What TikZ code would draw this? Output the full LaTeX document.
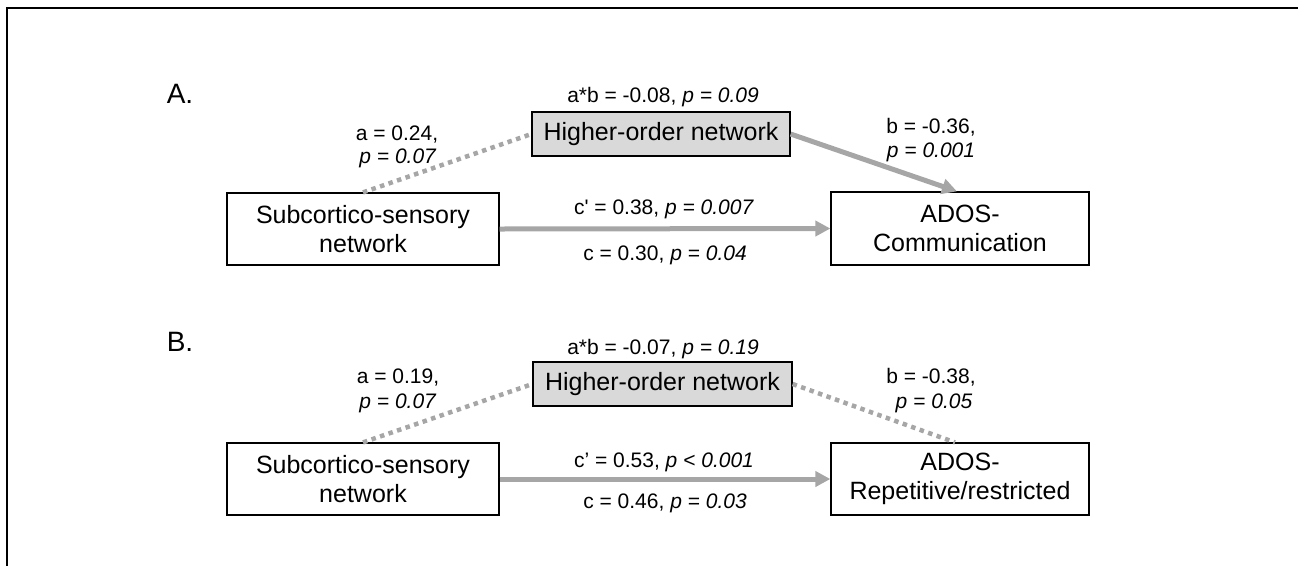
\documentclass[tikz,border=0pt]{standalone}
\usepackage{fontspec}
\setmainfont{Liberation Sans}
\usetikzlibrary{arrows.meta}
\definecolor{lgray}{RGB}{166,166,166}
\definecolor{boxfill}{RGB}{217,217,217}
\begin{document}
\begin{tikzpicture}[x=1pt,y=-1pt,
 box/.style={draw=black,line width=1.2pt,align=center,font=\fontsize{25}{29}\selectfont,inner sep=0pt},
 lab/.style={font=\fontsize{21}{25}\selectfont,anchor=base,inner sep=0pt},
 panel/.style={font=\fontsize{28}{30}\selectfont,anchor=base,inner sep=0pt},
 solidarrow/.style={draw=lgray,line width=5pt,-{Triangle[length=15pt,width=15pt]}},
 dotline/.style={draw=lgray,line width=4.5pt,dash pattern=on 4.5pt off 4.5pt},
]
\useasboundingbox (0,0) rectangle (1307,566);
\draw[line width=2pt] (7,566) -- (7,8) -- (1298,8);

% Panel A
\node[panel] (pA) at (180,103) {A.};
\node[box,minimum width=272pt,minimum height=72pt] (subA) at (363,229) {Subcortico-sensory\\network};
\node[box,minimum width=258pt,minimum height=73pt] (adosA) at (960,228.5) {ADOS-\\Communication};
\node[box,fill=boxfill,minimum width=258pt,minimum height=44pt] (highA) at (661,134) {Higher-order network};
\draw[dotline] (subA.north) -- (highA.west);
\draw[solidarrow] (highA.east) -- ([xshift=-3pt]adosA.north);
\draw[solidarrow] (subA.east) -- (adosA.west);
\node[lab] (abA) at (663,102) {a*b = -0.08, \textit{p = 0.09}};
\node[lab] (aA1) at (397,140) {a = 0.24,};
\node[lab] (aA2) at (398,163) {\textit{p = 0.07}};
\node[lab] (bA1) at (931,133) {b = -0.36,};
\node[lab] (bA2) at (931,157) {\textit{p = 0.001}};
\node[lab] (cpA) at (664,214) {c\textquotesingle{} = 0.38, \textit{p = 0.007}};
\node[lab] (cA) at (665,260) {c = 0.30, \textit{p = 0.04}};

% Panel B
\node[panel] (pB) at (180,351) {B.};
\node[box,minimum width=272pt,minimum height=72pt] (subB) at (363,479) {Subcortico-sensory\\network};
\node[box,minimum width=258pt,minimum height=72pt] (adosB) at (960,479) {ADOS-\\Repetitive/restricted};
\node[box,fill=boxfill,minimum width=259pt,minimum height=44pt] (highB) at (662.5,384) {Higher-order network};
\draw[dotline] (subB.north) -- (highB.west);
\draw[dotline] (highB.east) -- ([xshift=-5pt]adosB.north);
\draw[solidarrow] (subB.east) -- (adosB.west);
\node[lab] (abB) at (663,354) {a*b = -0.07, \textit{p = 0.19}};
\node[lab] (aB1) at (398,383) {a = 0.19,};
\node[lab] (aB2) at (398,408) {\textit{p = 0.07}};
\node[lab] (bB1) at (931,383) {b = -0.38,};
\node[lab] (bB2) at (934,408) {\textit{p = 0.05}};
\node[lab] (cpB) at (664,467) {c’ = 0.53, \textit{p < 0.001}};
\node[lab] (cB) at (665,508) {c = 0.46, \textit{p = 0.03}};
\end{tikzpicture}
\end{document}
